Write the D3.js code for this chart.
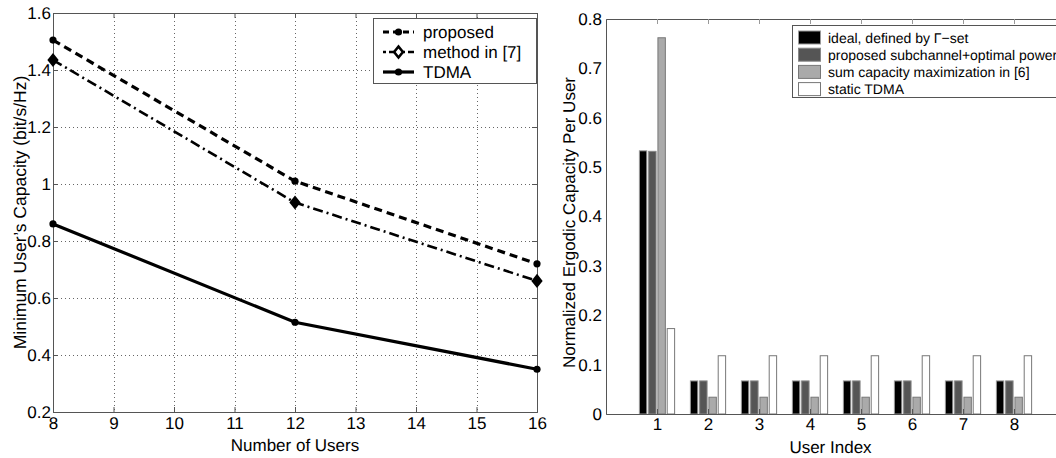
<!DOCTYPE html>
<html>
<head>
<meta charset="utf-8">
<script src="https://cdn.jsdelivr.net/npm/d3@7"></script>
<style>
  body { margin:0; background:#fff; }
  svg text { font-family: "Liberation Sans", Arial, sans-serif; fill:#000; text-rendering: geometricPrecision; }
</style>
</head>
<body>
<svg id="chart" width="1056" height="458"></svg>
<script>
// ---- left panel data ----
var USERS = [8, 12, 16];
var CAP_PROPOSED = [1.505, 1.01, 0.72];
var CAP_METHOD7 = [1.435, 0.935, 0.66];
var CAP_TDMA = [0.86, 0.515, 0.35];
var LEFT_XTICKS = [8, 9, 10, 11, 12, 13, 14, 15, 16];
var LEFT_YTICKS = [0.2, 0.4, 0.6, 0.8, 1, 1.2, 1.4, 1.6];

// ---- right panel data ----
var USER_INDEX = [1, 2, 3, 4, 5, 6, 7, 8];
var NC_IDEAL    = [0.533, 0.067, 0.067, 0.067, 0.067, 0.067, 0.067, 0.067];
var NC_PROPOSED = [0.532, 0.067, 0.067, 0.067, 0.067, 0.067, 0.067, 0.067];
var NC_SUMCAP   = [0.762, 0.034, 0.034, 0.034, 0.034, 0.034, 0.034, 0.034];
var NC_TDMA     = [0.173, 0.118, 0.118, 0.118, 0.118, 0.118, 0.118, 0.118];
var BAR_LABELS = ["ideal, defined by \u0393\u2212set", "proposed subchannel+optimal power",
                  "sum capacity maximization in [6]", "static TDMA"];
var RIGHT_YTICKS = [0, 0.1, 0.2, 0.3, 0.4, 0.5, 0.6, 0.7, 0.8];

var svg = d3.select("#chart");
var AXIS_COLOR = "#555";
var TICK_FONT = "17px";
var LABEL_FONT = "17px";

// ------------------------------------------------------------------
// left: line chart
// ------------------------------------------------------------------
function drawLeft(){
	var L = {left:53, right:537, top:13, bottom:412};
	var x = d3.scaleLinear().domain([8,16]).range([L.left, L.right]);
	var y = d3.scaleLinear().domain([0.2,1.6]).range([L.bottom, L.top]);
	var g = svg.append("g").attr("id","left");

	// grid
	g.selectAll(".vgrid").data(LEFT_XTICKS.slice(1,-1)).enter().append("line")
		.attr("x1", function(d){return Math.round(x(d))+0.5;}).attr("x2", function(d){return Math.round(x(d))+0.5;})
		.attr("y1", L.top).attr("y2", L.bottom)
		.attr("stroke","#666").attr("stroke-width",1).attr("stroke-dasharray","1,3");
	g.selectAll(".hgrid").data(LEFT_YTICKS.slice(1,-1)).enter().append("line")
		.attr("x1", L.left).attr("x2", L.right)
		.attr("y1", function(d){return Math.round(y(d))+0.5;}).attr("y2", function(d){return Math.round(y(d))+0.5;})
		.attr("stroke","#666").attr("stroke-width",1).attr("stroke-dasharray","1,3");

	// axes
	var ax = g.append("g").attr("transform","translate(0,"+L.bottom+")")
		.call(d3.axisBottom(x).tickValues(LEFT_XTICKS).tickSize(-5).tickPadding(5).tickFormat(d3.format("d")));
	var ay = g.append("g").attr("transform","translate("+L.left+",0)")
		.call(d3.axisLeft(y).tickValues(LEFT_YTICKS).tickSize(-5).tickPadding(2).tickFormat(function(d){return d3.format("")(+d.toFixed(1));}));
	var axt = g.append("g").attr("transform","translate(0,"+L.top+")")
		.call(d3.axisTop(x).tickValues(LEFT_XTICKS).tickSize(-5).tickFormat(""));
	var ayr = g.append("g").attr("transform","translate("+L.right+",0)")
		.call(d3.axisRight(y).tickValues(LEFT_YTICKS).tickSize(-5).tickFormat(""));
	[ax,ay,axt,ayr].forEach(function(a){
		a.selectAll("path,line").attr("stroke",AXIS_COLOR);
		a.selectAll("text").style("font-size",TICK_FONT).attr("fill","#000");
	});
	ax.selectAll("text").attr("dy","0.71em");

	// labels
	g.append("text").attr("x",(L.left+L.right)/2).attr("y",451).attr("text-anchor","middle")
		.style("font-size",LABEL_FONT).text("Number of Users");
	g.append("text").attr("transform","translate(26,"+((L.top+L.bottom)/2)+") rotate(-90)")
		.attr("text-anchor","middle").style("font-size","17.5px").text("Minimum User\u2019s Capacity (bit/s/Hz)");

	var series = [
		{name:"proposed", vals:CAP_PROPOSED, dash:"8,5", w:3.2, marker:"dot"},
		{name:"method in [7]", vals:CAP_METHOD7, dash:"10,4,2,4", w:2.6, marker:"diamond"},
		{name:"TDMA", vals:CAP_TDMA, dash:null, w:3.2, marker:"dot"}
	];
	var line = d3.line().x(function(d,i){return x(USERS[i]);}).y(function(d){return y(d);});

	series.forEach(function(s){
		g.append("path").datum(s.vals).attr("d",line)
			.attr("fill","none").attr("stroke","#000").attr("stroke-width",s.w)
			.attr("stroke-dasharray",s.dash);
		s.vals.forEach(function(v,i){
			_drawMarker(g, s.marker, x(USERS[i]), y(v), 1);
		});
	});

	// legend
	var lg = g.append("g").attr("id","legend_left");
	lg.append("rect").attr("x",373.5).attr("y",18.5).attr("width",163).attr("height",65)
		.attr("fill","#fff").attr("stroke",AXIS_COLOR);
	series.forEach(function(s,i){
		var yy = 32 + i*20;
		lg.append("line").attr("x1",383).attr("x2",414).attr("y1",yy).attr("y2",yy)
			.attr("stroke","#000").attr("stroke-width",s.w).attr("stroke-dasharray",s.dash ? (i==0 ? "6,4" : "3,3,10,3") : null);
		_drawMarker(lg, s.marker, 398.5, yy, 0);
		lg.append("text").attr("x",423).attr("y",yy).attr("dy","0.36em")
			.style("font-size","17px").text(s.name);
	});
}

function _drawMarker(g, type, cx, cy, solid){
	if (type=="dot"){
		g.append("circle").attr("cx",cx).attr("cy",cy).attr("r",3.6).attr("fill","#000");
	} else {
		var r = solid ? 5 : 5.5;
		g.append("path").attr("d","M"+cx+","+(cy-r)+"L"+(cx+r*0.8)+","+cy+"L"+cx+","+(cy+r)+"L"+(cx-r*0.8)+","+cy+"Z")
			.attr("fill", solid ? "#000" : "#fff").attr("stroke","#000").attr("stroke-width",2.6);
	}
}

// ------------------------------------------------------------------
// right: grouped bars
// ------------------------------------------------------------------
function drawRight(){
	var R = {left:606, right:1065, top:19, bottom:414};
	var x = d3.scaleLinear().domain([0,9]).range([R.left, R.right]);
	var y = d3.scaleLinear().domain([0,0.8]).range([R.bottom, R.top]);
	var g = svg.append("g").attr("id","right");

	var groups = [NC_IDEAL, NC_PROPOSED, NC_SUMCAP, NC_TDMA];
	var fills = ["#000","#555","#aaa","#fff"];
	var edges = ["#999","#888","#777","#777"];
	var groupW = Math.min(0.8, 4/(4+1.5));
	var slot = groupW/4;
	var barW = slot*0.8;

	groups.forEach(function(vals,k){
		g.selectAll(".bar"+k).data(vals).enter().append("rect")
			.attr("x", function(d,i){ return x(USER_INDEX[i] - groupW/2 + slot*k + (slot-barW)/2); })
			.attr("width", x(barW)-x(0))
			.attr("y", function(d){ return y(d); })
			.attr("height", function(d){ return y(0)-y(d); })
			.attr("fill", fills[k]).attr("stroke", edges[k]).attr("stroke-width",1);
	});

	var ax = g.append("g").attr("transform","translate(0,"+R.bottom+")")
		.call(d3.axisBottom(x).tickValues(USER_INDEX).tickSize(-5).tickPadding(4).tickFormat(d3.format("d")));
	var ay = g.append("g").attr("transform","translate("+R.left+",0)")
		.call(d3.axisLeft(y).tickValues(RIGHT_YTICKS).tickSize(0).tickPadding(4).tickFormat(function(d){return d3.format("")(+d.toFixed(1));}));
	var axt = g.append("g").attr("transform","translate(0,"+R.top+")")
		.call(d3.axisTop(x).tickValues(USER_INDEX).tickSize(-5).tickFormat(""));
	[ax,ay,axt].forEach(function(a){
		a.selectAll("path,line").attr("stroke",AXIS_COLOR);
		a.selectAll("text").style("font-size",TICK_FONT).attr("fill","#000");
	});
	ax.selectAll("text").attr("dy","0.71em");
	axt.selectAll("line").attr("stroke","#999");

	g.append("text").attr("x",(R.left+R.right)/2 - 5).attr("y",453).attr("text-anchor","middle")
		.style("font-size",LABEL_FONT).text("User Index");
	g.append("text").attr("transform","translate(575,"+((R.top+R.bottom)/2+6)+") rotate(-90)")
		.attr("text-anchor","middle").style("font-size",LABEL_FONT).text("Normalized Ergodic Capacity Per User");

	// legend
	var lg = g.append("g").attr("id","legend_right");
	lg.append("rect").attr("x",792.5).attr("y",25.5).attr("width",270).attr("height",72)
		.attr("fill","#fff").attr("stroke",AXIS_COLOR);
	BAR_LABELS.forEach(function(t,k){
		var yy = 37.5 + k*17.2;
		lg.append("rect").attr("x",798.5).attr("y",yy-6.5).attr("width",22).attr("height",13)
			.attr("fill",fills[k]).attr("stroke",edges[k]);
		lg.append("text").attr("x",828).attr("y",yy).attr("dy","0.36em")
			.style("font-size","14px").text(t);
	});
}

drawLeft();
drawRight();
</script>
</body>
</html>
